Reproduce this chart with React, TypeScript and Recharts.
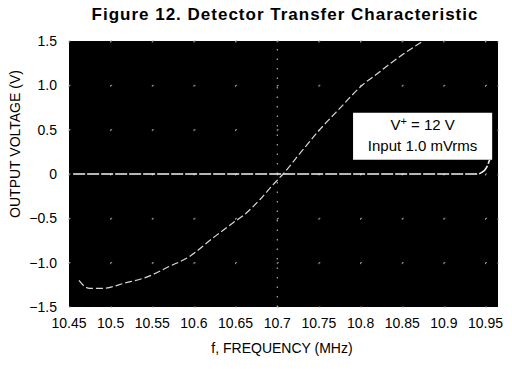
import {
  LineChart,
  Line,
  XAxis,
  YAxis,
  CartesianGrid,
  ReferenceLine,
  ReferenceArea,
} from "recharts";

// detector output sweep (MHz, V)
const curveFreq = [
  10.462, 10.469, 10.475, 10.49, 10.517, 10.544, 10.571, 10.593, 10.623, 10.647,
  10.659, 10.679, 10.695, 10.707, 10.727, 10.751, 10.775, 10.803, 10.82, 10.835,
  10.851, 10.875,
];
const curveVolts = [
  -1.2, -1.27, -1.29, -1.29, -1.23, -1.16, -1.04, -0.94, -0.72, -0.55,
  -0.47, -0.29, -0.12, 0, 0.23, 0.5, 0.74, 1.01, 1.13, 1.24,
  1.35, 1.5,
];

// zero-reference trace
const baseFreq = [10.455, 10.941, 10.946, 10.951, 10.955];
const baseVolts = [0, 0, 0.02, 0.07, 0.16];

const xTicks = [10.45, 10.5, 10.55, 10.6, 10.65, 10.7, 10.75, 10.8, 10.85, 10.9, 10.95];
const yTicks = [-1.5, -1.0, -0.5, 0, 0.5, 1.0, 1.5];

const curve = curveFreq.map((f, i) => ({ f, v: curveVolts[i] }));
const base = baseFreq.map((f, i) => ({ f, v: baseVolts[i] }));

const font = "'Liberation Sans', Arial, sans-serif";

const fmtY = (v: number) => (v === 0 ? "0" : v.toFixed(1).replace("-", "\u2212"));

function NoteBox(props: any) {
  const { x, y, width } = props.viewBox;
  const cx = x + width / 2;
  return (
    <g fontFamily={font} fontSize={15} fill="#000" textAnchor="middle">
      <text x={cx} y={y + 17}>
        V<tspan dy={-5} fontSize={11}>+</tspan>
        <tspan dy={5}> = 12 V</tspan>
      </text>
      <text x={cx} y={y + 38}>Input 1.0 mVrms</text>
    </g>
  );
}

export default function App() {
  return (
    <div
      style={{
        position: "absolute",
        top: 0,
        left: 0,
        width: 512,
        height: 369,
        background: "#fff",
        fontFamily: font,
        color: "#000",
      }}
    >
      <LineChart width={512} height={369} margin={{ top: 41, right: 14, bottom: 0, left: 0 }}>
        <CartesianGrid fill="#000" fillOpacity={1} vertical={false} stroke="#999" strokeDasharray="1.5 40.15" />
        <CartesianGrid vertical horizontal={false} stroke="#999" strokeDasharray="1.5 42.83" />
        <XAxis
          dataKey="f"
          type="number"
          domain={[10.45, 10.965]}
          ticks={xTicks}
          tickFormatter={(v: number) => String(v)}
          allowDataOverflow
          axisLine={false}
          tickLine={false}
          tickSize={0}
          tickMargin={11}
          height={62}
          tick={{ fill: "#000", fontSize: 14, fontFamily: font }}
        />
        <YAxis
          type="number"
          domain={[-1.5, 1.5]}
          ticks={yTicks}
          tickFormatter={fmtY}
          allowDataOverflow
          axisLine={false}
          tickLine={false}
          tickSize={0}
          tickMargin={12}
          width={69}
          tick={{ fill: "#000", fontSize: 14, fontFamily: font }}
        />
        <ReferenceLine x={10.7} stroke="#ccc" strokeDasharray="1.5 8" />
        <Line
          data={base}
          dataKey="v"
          type="monotone"
          stroke="#f2f2f2"
          strokeWidth={1.6}
          strokeDasharray="12 2"
          dot={false}
          isAnimationActive={false}
        />
        <Line
          data={curve}
          dataKey="v"
          type="monotone"
          stroke="#d8d8d8"
          strokeWidth={1.2}
          strokeDasharray="7 3"
          dot={false}
          isAnimationActive={false}
        />
        <ReferenceArea
          x1={10.791}
          x2={10.958}
          y1={0.16}
          y2={0.69}
          fill="#fff"
          fillOpacity={1}
          stroke="none"
          label={NoteBox}
        />
      </LineChart>
      <div
        style={{
          position: "absolute",
          top: 6,
          left: 285,
          transform: "translateX(-50%)",
          whiteSpace: "nowrap",
          fontSize: 17,
          lineHeight: "17px",
          fontWeight: "bold",
          letterSpacing: 1,
        }}
      >
        Figure 12. Detector Transfer Characteristic
      </div>
      <div
        style={{
          position: "absolute",
          top: 341,
          left: 282,
          transform: "translateX(-50%)",
          whiteSpace: "nowrap",
          fontSize: 14,
          lineHeight: "14px",
        }}
      >
        f, FREQUENCY (MHz)
      </div>
      <div
        style={{
          position: "absolute",
          top: 144,
          left: 15,
          transform: "translate(-50%, -50%) rotate(-90deg)",
          whiteSpace: "nowrap",
          fontSize: 14,
          lineHeight: "14px",
        }}
      >
        OUTPUT VOLTAGE (V)
      </div>
    </div>
  );
}
